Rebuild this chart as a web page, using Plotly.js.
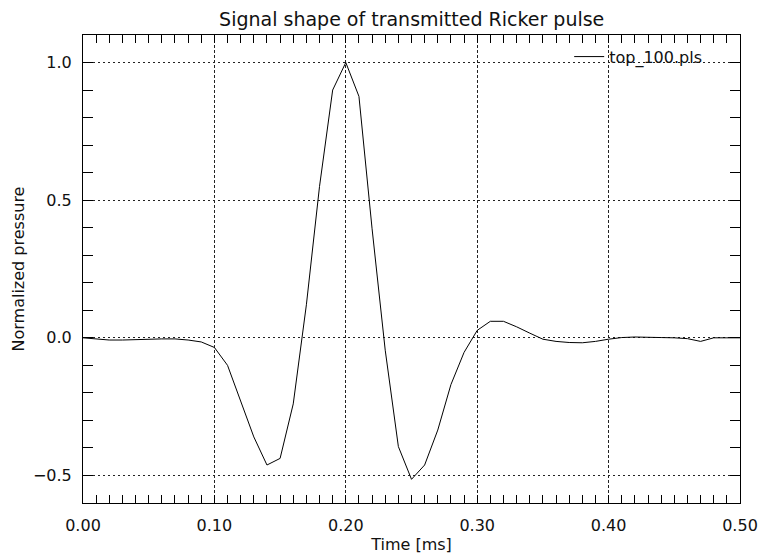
<!DOCTYPE html>
<html>
<head>
<meta charset="utf-8">
<script src="https://cdn.plot.ly/plotly-3.0.1.min.js"></script>
<style>html,body{margin:0;padding:0;background:#fff;}#chart{width:761px;height:555px;}</style>
</head>
<body>
<div id="chart"></div>
<script>
// Time samples [ms]
const timeMs = [0.00,0.01,0.02,0.03,0.04,0.05,0.06,0.07,0.08,0.09,
  0.10,0.11,0.12,0.13,0.14,0.15,0.16,0.17,0.18,0.19,
  0.20,0.21,0.22,0.23,0.24,0.25,0.26,0.27,0.28,0.29,
  0.30,0.31,0.32,0.33,0.34,0.35,0.36,0.37,0.38,0.39,
  0.40,0.41,0.42,0.43,0.44,0.45,0.46,0.47,0.48,0.49,0.50];
// Normalized pressure
const pressure = [0.000,-0.005,-0.008,-0.008,-0.006,-0.004,-0.004,-0.004,-0.008,-0.015,
  -0.035,-0.100,-0.230,-0.360,-0.462,-0.438,-0.240,0.120,0.550,0.900,
  1.000,0.877,0.396,-0.045,-0.395,-0.514,-0.462,-0.335,-0.170,-0.053,
  0.027,0.060,0.060,0.040,0.017,-0.005,-0.013,-0.017,-0.018,-0.013,
  -0.005,0.001,0.003,0.003,0.001,0.000,-0.003,-0.013,0.000,0.000,0.000];
const xTickVals = [0.0,0.1,0.2,0.3,0.4,0.5];
const xTickText = ["0.00","0.10","0.20","0.30","0.40","0.50"];
const yTickVals = [-0.5,0.0,0.5,1.0];
const yTickText = ["\u22120.5","0.0","0.5","1.0"];
const seriesName = "top_100.pls";

const font = {family: "DejaVu Sans, sans-serif", color: "#111"};

const trace = {
  x: timeMs, y: pressure, type: "scatter", mode: "lines",
  line: {color: "#000", width: 1}, name: seriesName, showlegend: true
};

const axisCommon = {
  showline: true, linecolor: "#000", linewidth: 1, mirror: "ticks",
  showgrid: true, gridcolor: "#222", gridwidth: 1,
  zeroline: false, ticks: "inside", tickcolor: "#000", ticklen: 0,
  tickfont: Object.assign({size: 16}, font)
};

const layout = {
  width: 761, height: 555,
  margin: {l: 83, r: 21, t: 35, b: 52},
  paper_bgcolor: "#fff", plot_bgcolor: "#fff",
  title: {text: "Signal shape of transmitted Ricker pulse", x: 0.541, xanchor: "center", y: 0.966, yanchor: "middle",
          font: Object.assign({size: 19}, font)},
  xaxis: Object.assign({}, axisCommon, {
    range: [0, 0.5], tickvals: xTickVals, ticktext: xTickText,
    griddash: "3px,2px", ticklabelstandoff: 8,
    minor: {dtick: 0.01, ticks: "inside", ticklen: 8, tickcolor: "#000", showgrid: false},
    title: {text: "Time [ms]", font: Object.assign({size: 16}, font), standoff: 4}
  }),
  yaxis: Object.assign({}, axisCommon, {
    range: [-0.6, 1.1], tickvals: yTickVals, ticktext: yTickText,
    griddash: "2px,3px", ticklabelstandoff: 7,
    minor: {dtick: 0.1, ticks: "inside", ticklen: 10, tickcolor: "#000", showgrid: false},
    title: {text: "Normalized pressure", font: Object.assign({size: 16}, font), standoff: 4}
  }),
  showlegend: true,
  legend: {x: 0.74, y: 0.99, xanchor: "left", yanchor: "top", bgcolor: "rgba(0,0,0,0)",
           font: Object.assign({size: 16}, font), itemwidth: 30, tracegroupgap: 0}
};

Plotly.newPlot("chart", [trace], layout, {staticPlot: true, displayModeBar: false});
</script>
</body>
</html>
